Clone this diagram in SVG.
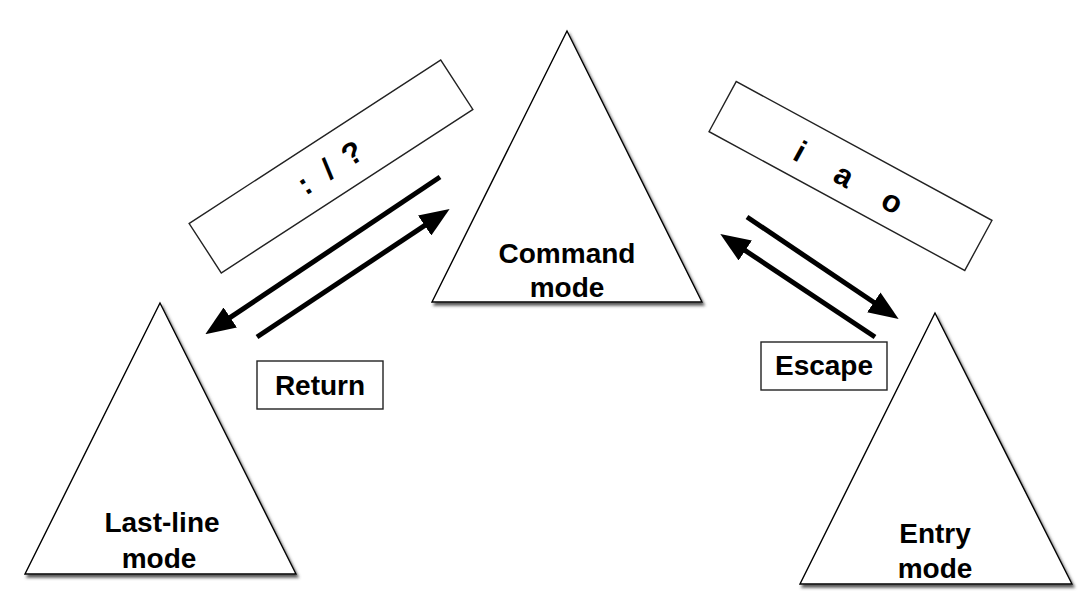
<svg xmlns="http://www.w3.org/2000/svg" width="1081" height="608" viewBox="0 0 1081 608">
<style>
.tri{fill:#fff;stroke:#000;stroke-width:1.4;filter:url(#sh)}
.box{fill:#fff;stroke:#222;stroke-width:1.4}
.lbl{font-family:"Liberation Sans",Arial,sans-serif;font-weight:bold;font-size:28px;fill:#000;text-anchor:middle}
.key{font-family:"Liberation Sans",Arial,sans-serif;font-weight:bold;font-size:31px;fill:#000;text-anchor:middle}
.arr{stroke:#000;stroke-width:5;fill:none;marker-end:url(#ah)}
</style>
<defs>
<filter id="sh" x="-10%" y="-10%" width="130%" height="130%">
<feDropShadow dx="2" dy="3" stdDeviation="1.5" flood-color="#444" flood-opacity="0.9"/>
</filter>
<marker id="ah" markerUnits="userSpaceOnUse" viewBox="0 0 30 24" markerWidth="30" markerHeight="24" refX="8" refY="12" orient="auto">
<path d="M0,0 L30,12 L0,24 z" fill="#000"/>
</marker>
</defs>
<rect width="1081" height="608" fill="#fff"/>
<g id="command-mode">
<polygon class="tri" points="567,31 432,302 702,302"/>
<text class="lbl" x="567" y="263">Command</text>
<text class="lbl" x="567" y="297">mode</text>
</g>
<g id="last-line-mode">
<polygon class="tri" points="160,303 25,574 296,574"/>
<text class="lbl" x="162" y="532">Last-line</text>
<text class="lbl" x="159" y="568">mode</text>
</g>
<g id="entry-mode">
<polygon class="tri" points="935,313 800,584 1072,584"/>
<text class="lbl" x="935" y="543">Entry</text>
<text class="lbl" x="935" y="578">mode</text>
</g>
<g id="label-colon-slash-question">
<g transform="translate(331,166.5) rotate(-33)">
<rect class="box" x="-150" y="-29.5" width="300" height="59"/>
<text class="key" x="-32" y="11">:</text>
<text class="key" x="-4" y="11">/</text>
<text class="key" x="25" y="11">?</text>
</g>
</g>
<g id="label-i-a-o">
<g transform="translate(850.5,176) rotate(28.5)">
<rect class="box" x="-145.5" y="-28.5" width="291" height="57"/>
<text class="key" x="-56" y="13">i</text>
<text class="key" x="-6" y="13">a</text>
<text class="key" x="49" y="13">o</text>
</g>
</g>
<g id="label-return">
<rect class="box" x="257" y="361" width="126" height="48"/>
<text class="lbl" x="320" y="395">Return</text>
</g>
<g id="label-escape">
<rect class="box" x="761" y="342" width="126" height="48"/>
<text class="lbl" x="824" y="375">Escape</text>
</g>
<g id="connectors">
<line class="arr" x1="440" y1="177" x2="223.6" y2="321.9"/>
<line class="arr" x1="257" y1="337" x2="431.3" y2="221.1"/>
<line class="arr" x1="747" y1="217" x2="880.4" y2="306.8"/>
<line class="arr" x1="875" y1="337" x2="738.6" y2="246.1"/>
</g>
</svg>
